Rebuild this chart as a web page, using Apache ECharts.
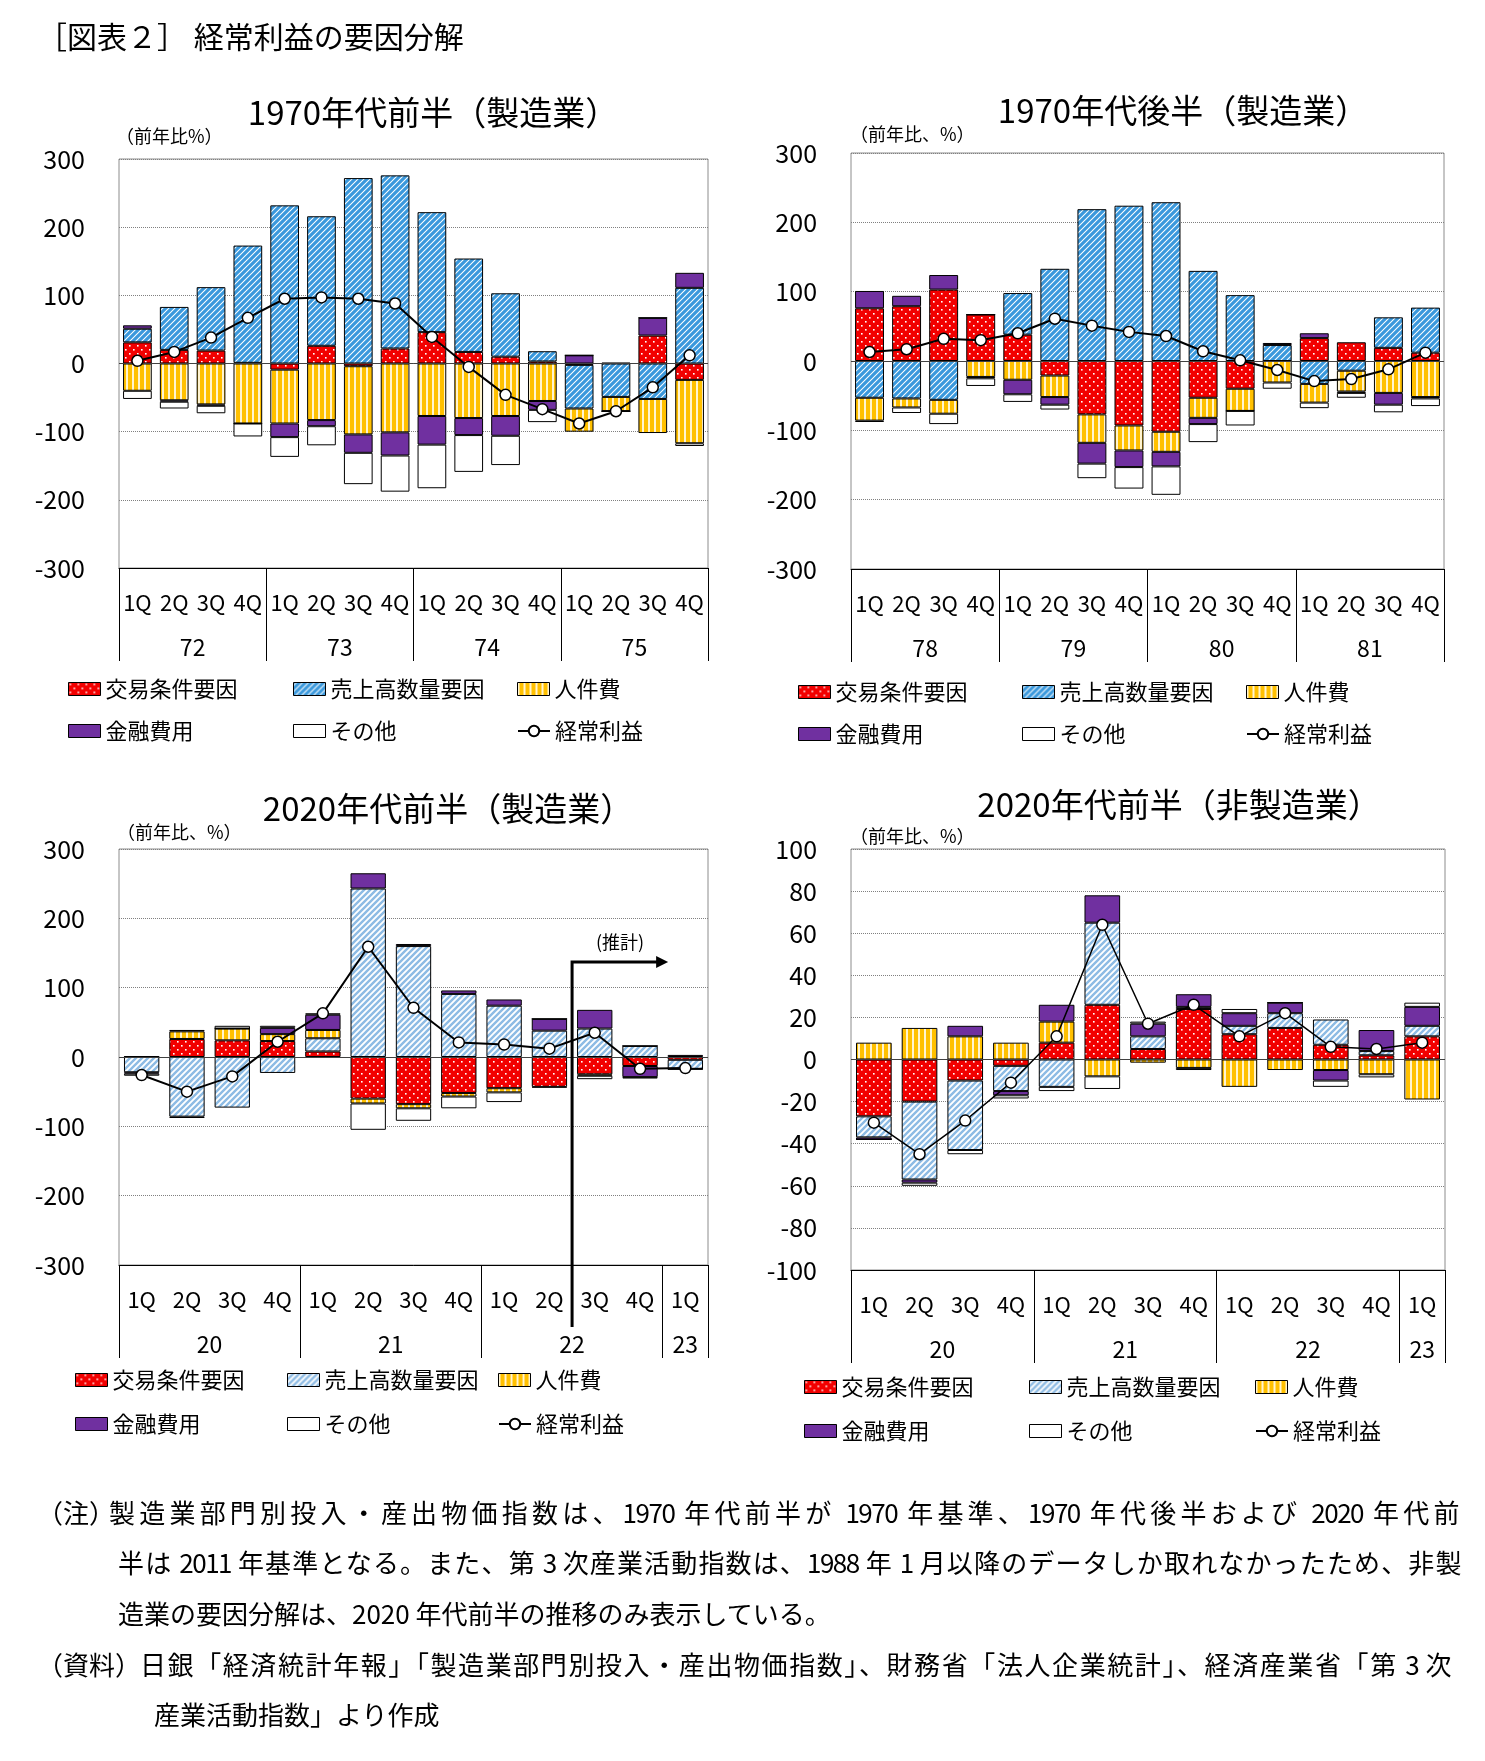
<!DOCTYPE html>
<html><head><meta charset="utf-8">
<script src="https://cdn.jsdelivr.net/npm/echarts@6/dist/echarts.min.js"></script>
<style>
html,body{margin:0;padding:0;background:#fff}
#c{position:absolute;left:0;top:0;width:1485px;height:1761px}
.note{position:absolute;font-family:'Noto Sans CJK JP',sans-serif;font-size:26px;color:#000;white-space:nowrap;line-height:32px}
.just{text-align:justify;text-align-last:justify;text-justify:inter-character;white-space:normal;letter-spacing:-1.5px;height:32px;overflow:visible}
</style>
</head><body><div id="c"></div>
<div class="note" style="left:37px;top:1496px">（注）</div>
<div class="note just" style="left:109px;top:1496px;width:1349px">製造業部門別投入・産出物価指数は、1970 年代前半が 1970 年基準、1970 年代後半および 2020 年代前</div>
<div class="note just" style="left:118px;top:1546px;width:1342px">半は 2011 年基準となる。また、第 3 次産業活動指数は、1988 年 1 月以降のデータしか取れなかったため、非製</div>
<div class="note" style="left:118px;top:1597px">造業の要因分解は、2020 年代前半の推移のみ表示している。</div>
<div class="note" style="left:37px;top:1648px">（資料）</div>
<div class="note just" style="left:140px;top:1648px;width:1310px">日銀「経済統計年報」「製造業部門別投入・産出物価指数」、財務省「法人企業統計」、経済産業省「第 3 次</div>
<div class="note" style="left:154px;top:1698px">産業活動指数」より作成</div>
<script>
// ---------------- data ----------------
const quarters16 = ['1Q','2Q','3Q','4Q','1Q','2Q','3Q','4Q','1Q','2Q','3Q','4Q','1Q','2Q','3Q','4Q'];
const quarters13 = ['1Q','2Q','3Q','4Q','1Q','2Q','3Q','4Q','1Q','2Q','3Q','4Q','1Q'];
const seriesNames = ['交易条件要因','売上高数量要因','人件費','金融費用','その他','経常利益'];

// 1970年代前半（製造業）
const years1 = ['72','73','74','75'];
const yearCounts1 = [4,4,4,4];
const trade1   = [31, 20, 19, 1, -9, 26, -4, 22, 46, 17, 10, 3, -2, 1, 41, -24];
const volume1  = [20, 63, 93, 172, 232, 190, 272, 254, 176, 137, 93, 15, -64, -49, -52, 111];
const labor1   = [-40, -54, -60, -88, -79, -83, -100, -101, -77, -80, -77, -55, -34, -21, -50, -93];
const finance1 = [5, -2, -2, 0, -20, -9, -27, -34, -42, -25, -29, -13, 12, 0, 26, 22];
const other1   = [-12, -10, -11, -19, -29, -28, -46, -53, -64, -54, -43, -18, 0, 0, 0, -4];
const profit1  = [4, 17, 38, 67, 95, 97, 95, 88, 39, -5, -46, -67, -88, -70, -35, 12];

// 1970年代後半（製造業）
const years2 = ['78','79','80','81'];
const yearCounts2 = [4,4,4,4];
const trade2   = [76, 79, 103, 67, 38, -21, -77, -93, -102, -53, -40, 0, 33, 27, 19, 12];
const volume2  = [-53, -54, -56, 0, 60, 133, 219, 224, 229, 130, 95, 23, -33, -14, 44, 65];
const labor2   = [-33, -13, -20, -23, -27, -31, -41, -36, -29, -29, -32, -31, -27, -30, -46, -52];
const finance2 = [25, 15, 21, -2, -21, -11, -30, -24, -21, -9, 0, 3, 7, -2, -17, -2];
const other2   = [-2, -8, -15, -11, -11, -7, -21, -31, -41, -26, -21, -9, -8, -7, -11, -11];
const profit2  = [13, 17, 32, 30, 40, 61, 51, 42, 36, 14, 1, -13, -29, -26, -12, 12];

// 2020年代前半（製造業）
const years3 = ['20','21','22','23'];
const yearCounts3 = [4,4,4,1];
const trade3   = [0, 26, 24, 23, 8, -60, -68, -52, -45, -43, -25, -13, -4];
const volume3  = [-22, -86, -73, -23, 19, 243, 160, 91, 74, 38, 41, 16, -13];
const labor3   = [1, 11, 17, 10, 12, -7, -6, -5, -6, -1, -2, 0, 0];
const finance3 = [-2, 2, 0, 9, 22, 22, 3, 5, 9, 17, 27, -16, 3];
const other3   = [-3, -2, 4, 3, 2, -38, -18, -17, -14, 0, -5, -2, -1];
const profit3  = [-26, -50, -28, 22, 63, 159, 71, 21, 18, 12, 35, -17, -16];

// 2020年代前半（非製造業）
const years4 = ['20','21','22','23'];
const yearCounts4 = [4,4,4,1];
const trade4   = [-27, -20, -10, -3, 8, 26, 5, 24, 12, 15, 7, 2, 11];
const volume4  = [-10, -37, -33, -12, -13, 39, 6, 1, 4, 7, 12, 2, 5];
const labor4   = [8, 15, 11, 8, 10, -8, -1.5, -4, -13, -5, -5, -7, -19];
const finance4 = [-1, -1.5, 5, -2, 8, 13, 6, 6, 6, 5, -5, 10, 9];
const other4   = [0, -1.5, -2, -1.5, -2, -6, 1, -1, 2, 0, -3, -1.5, 2];
const profit4  = [-30, -45, -29, -11, 11, 64, 17, 26, 11, 22, 6, 5, 8];

const estimateLabel = '(推計)';

// ---------------- styles ----------------
const FONT = "'Noto Sans CJK JP','Noto Sans CJK SC',sans-serif";
function mk(w,h){const c=document.createElement('canvas');c.width=w;c.height=h;return c;}
function dotPattern(){const c=mk(8,8),g=c.getContext('2d');g.fillStyle='#f20000';g.fillRect(0,0,8,8);g.fillStyle='#ffffff';g.fillRect(1,1,1.6,1.6);g.fillRect(5,5,1.6,1.6);return c;}
function hatchPattern(color,lw,s){const c=mk(s,s),g=c.getContext('2d');g.fillStyle='#ffffff';g.fillRect(0,0,s,s);g.strokeStyle=color;g.lineWidth=lw;g.beginPath();
  g.moveTo(0,s);g.lineTo(s,0);g.moveTo(-s/2,s/2);g.lineTo(s/2,-s/2);g.moveTo(s/2,s*1.5);g.lineTo(s*1.5,s/2);g.stroke();return c;}
function stripePattern(){const c=mk(6,6),g=c.getContext('2d');g.fillStyle='#ffc000';g.fillRect(0,0,6,6);g.fillStyle='#fff4d0';g.fillRect(0,0,2,6);return c;}
const P_RED = {image: dotPattern(), repeat:'repeat'};
const P_BLUE_DARK = {image: hatchPattern('#3a98dc',3.2,6), repeat:'repeat'};
const P_BLUE_LIGHT = {image: hatchPattern('#8dbbe4',2.4,6), repeat:'repeat'};
const P_YELLOW = {image: stripePattern(), repeat:'repeat'};
const C_PURPLE = '#7030a0';
const C_WHITE = '#ffffff';

const charts = [
  {title:'1970年代前半（製造業）', tx:433, ty:112, unit:'（前年比%）', ux:116, uy:136,
   grid:{left:119,top:159,width:589,height:409}, q:quarters16, years:years1, counts:yearCounts1,
   min:-300,max:300,step:100, data:[trade1,volume1,labor1,finance1,other1,profit1], blue:P_BLUE_DARK,
   lx:[68,293,517], ly:[691,733]},
  {title:'1970年代後半（製造業）', tx:1183, ty:110, unit:'（前年比、%）', ux:850, uy:134,
   grid:{left:851,top:153,width:593,height:416}, q:quarters16, years:years2, counts:yearCounts2,
   min:-300,max:300,step:100, data:[trade2,volume2,labor2,finance2,other2,profit2], blue:P_BLUE_DARK,
   lx:[798,1022,1246], ly:[694,736]},
  {title:'2020年代前半（製造業）', tx:448, ty:808, unit:'（前年比、%）', ux:117, uy:832,
   grid:{left:119,top:849,width:589,height:416}, q:quarters13, years:years3, counts:yearCounts3,
   min:-300,max:300,step:100, data:[trade3,volume3,labor3,finance3,other3,profit3], blue:P_BLUE_LIGHT,
   lx:[75,287,498], ly:[1382,1426]},
  {title:'2020年代前半（非製造業）', tx:1179, ty:804, unit:'（前年比、%）', ux:850, uy:836,
   grid:{left:851,top:849,width:594,height:421}, q:quarters13, years:years4, counts:yearCounts4,
   min:-100,max:100,step:20, data:[trade4,volume4,labor4,finance4,other4,profit4], blue:P_BLUE_LIGHT,
   lx:[804,1029,1255], ly:[1389,1433]}
];

const grid=[], xAxis=[], yAxis=[], series=[], legend=[], graphic=[];
graphic.push({type:'text', left:37, top:22, style:{text:'［図表２］ 経常利益の要因分解', font:'30px '+FONT, fill:'#000'}});

charts.forEach((c,i)=>{
  grid.push(Object.assign({show:true, borderColor:'#8c8c8c', borderWidth:1, backgroundColor:'#fff'}, c.grid));
  xAxis.push({type:'category', gridIndex:i, data:c.q, position:'bottom',
    axisLine:{onZero:false, lineStyle:{color:'#000', width:1}}, axisTick:{show:false},
    axisLabel:{interval:0, margin:24, fontSize:22, color:'#000', fontFamily:FONT}});
  const n = c.q.length; const ydata = new Array(2*n+1).fill(''); const bounds = new Set([0]);
  let s=0; c.counts.forEach((k,j)=>{ ydata[2*s+k] = c.years[j]; s+=k; bounds.add(2*s); });
  xAxis.push({type:'category', gridIndex:i, data:ydata, boundaryGap:false, position:'bottom',
    axisLine:{show:false, onZero:false},
    axisTick:{show:true, length:93, interval:(idx)=>bounds.has(idx), lineStyle:{color:'#000', width:1}},
    axisLabel:{interval:0, margin:68, fontSize:23, color:'#000', fontFamily:FONT}});
  yAxis.push({type:'value', gridIndex:i, min:c.min, max:c.max, interval:c.step,
    axisLine:{show:false}, axisTick:{show:false},
    axisLabel:{margin:34, fontSize:25, color:'#000', fontFamily:FONT},
    splitLine:{show:true, lineStyle:{color:'#808080', type:'dotted', width:1}}});
  const fills = [P_RED, c.blue, P_YELLOW, C_PURPLE, C_WHITE];
  for(let k=0;k<5;k++){
    const sObj = {name:seriesNames[k], type:'bar', xAxisIndex:2*i, yAxisIndex:i, stack:'s'+i,
      data:c.data[k], barCategoryGap:'22%',
      itemStyle:{color:fills[k], borderColor:'#000', borderWidth:1}};
    if(k===0){ sObj.markLine = {silent:true, symbol:'none', label:{show:false},
      lineStyle:{color:'#404040', width:1, type:'solid'}, data:[{yAxis:0}]}; }
    series.push(sObj);
  }
  series.push({name:seriesNames[5], type:'line', xAxisIndex:2*i, yAxisIndex:i, data:c.data[5], z:5,
    symbol:'circle', symbolSize:11, lineStyle:{color:'#000', width: i===3?1.5:2},
    itemStyle:{color:'#fff', borderColor:'#000', borderWidth:1.5}});
  seriesNames.forEach((nm,k)=>{
    const col=k%3, row=Math.floor(k/3);
    const item = {name:nm};
    if(k<5){ item.icon = 'rect'; item.itemStyle = {color:fills[k], borderColor:'#000', borderWidth:1}; }
    legend.push({data:[item], left:c.lx[col], top:c.ly[row]-13, padding:0, selectedMode:false,
      itemWidth:32, itemHeight:13, itemGap:4,
      textStyle:{fontSize:22, color:'#000', fontFamily:FONT, padding:[0,0,0,0]}});
  });
  graphic.push({type:'text', x:c.tx, y:c.ty, style:{text:c.title, font:'33px '+FONT, fill:'#000', align:'center', verticalAlign:'middle'}});
  graphic.push({type:'text', x:c.ux, y:c.uy, style:{text:c.unit, font:'18px '+FONT, fill:'#000', align:'left', verticalAlign:'middle'}});
});

const chart = echarts.init(document.getElementById('c'), null, {renderer:'canvas'});
chart.setOption({animation:false, backgroundColor:'#fff', textStyle:{fontFamily:FONT}, grid, xAxis, yAxis, series, legend, graphic});

const xq = (idx)=>chart.convertToPixel({xAxisIndex:4}, idx);
const yv = (v)=>chart.convertToPixel({yAxisIndex:2}, v);
const xs = (xq(9)+xq(10))/2;
const xe = xq(11) + (xq(12)-xq(11))*0.62;
const yt = yv(137), yb = yv(-300)+62, ytxt = yv(166);
graphic.push({type:'polyline', z:100, shape:{points:[[xs,yb],[xs,yt],[xe-10,yt]]}, style:{stroke:'#000', lineWidth:3, fill:null}});
graphic.push({type:'polygon', z:100, shape:{points:[[xe,yt],[xe-12,yt-6],[xe-12,yt+6]]}, style:{fill:'#000'}});
graphic.push({type:'text', z:100, x:(xs+xe)/2, y:ytxt, style:{text:estimateLabel, font:'18px '+FONT, fill:'#000', align:'center', verticalAlign:'middle'}});
chart.setOption({graphic});
</script>
</body></html>
